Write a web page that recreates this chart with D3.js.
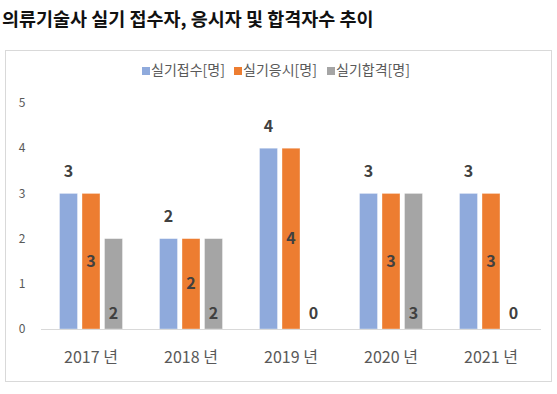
<!DOCTYPE html>
<html>
<head>
<meta charset="utf-8">
<script src="https://cdn.jsdelivr.net/npm/d3@7"></script>
<style>
  body { margin: 0; background: #fff; font-family: "Noto Sans CJK KR", "Noto Sans", sans-serif; }
</style>
</head>
<body>
<div id="chart"></div>
<script>
var title = "의류기술사 실기 접수자, 응시자 및 합격자수 추이";
var years = ["2017 년", "2018 년", "2019 년", "2020 년", "2021 년"];
var seriesNames = ["실기접수[명]", "실기응시[명]", "실기합격[명]"];
var applied = [3, 2, 4, 3, 3];
var attended = [3, 2, 4, 3, 3];
var passed = [2, 2, 0, 3, 0];
var yTicks = [0, 1, 2, 3, 4, 5];
var colors = ["#8FAADC", "#ED7D31", "#A5A5A5"];

var width = 557, height = 394;
var svg = d3.select("#chart").append("svg")
    .attr("width", width)
    .attr("height", height);

// title
svg.append("text")
    .attr("x", 2).attr("y", 26)
    .attr("font-size", "18.5px")
    .attr("font-weight", "bold")
    .attr("fill", "#111")
    .text(title);

// chart frame
svg.append("rect")
    .attr("x", 5.5).attr("y", 50.5)
    .attr("width", 546).attr("height", 331)
    .attr("fill", "none")
    .attr("stroke", "#d9d9d9");

var allSeries = [applied, attended, passed];

var x0 = d3.scaleBand()
    .domain(years)
    .range([41, 541])
    .paddingInner(0.37)
    .paddingOuter(0.185);

var x1 = d3.scaleBand()
    .domain(d3.range(3))
    .range([0, x0.bandwidth()])
    .paddingInner(0.2);

var y = d3.scaleLinear()
    .domain([0, 5])
    .range([329, 103]);

// y tick labels
svg.append("g").selectAll("text")
    .data(yTicks)
    .enter().append("text")
    .attr("x", 22)
    .attr("y", d => y(d))
    .attr("dy", "0.35em")
    .attr("text-anchor", "middle")
    .attr("font-size", "12px")
    .attr("fill", "#595959")
    .text(d => d);

// bars
var groups = svg.append("g").selectAll("g")
    .data(years)
    .enter().append("g")
    .attr("transform", d => "translate(" + x0(d) + ",0)");

groups.selectAll("rect")
    .data((d, i) => allSeries.map((s, k) => ({k: k, v: s[i]})))
    .enter().append("rect")
    .attr("x", d => x1(d.k))
    .attr("y", d => y(d.v))
    .attr("width", x1.bandwidth())
    .attr("height", d => y(0) - y(d.v))
    .attr("fill", d => colors[d.k])
    .attr("stroke", "#fff")
    .attr("stroke-width", 0.7)
    .attr("stroke-opacity", 0.5);

// baseline
svg.append("line")
    .attr("x1", 41).attr("x2", 541)
    .attr("y1", y(0) + 0.5).attr("y2", y(0) + 0.5)
    .attr("stroke", "#d9d9d9");

// data labels
groups.selectAll("text.lbl")
    .data((d, i) => allSeries.map((s, k) => ({k: k, v: s[i]})))
    .enter().append("text")
    .attr("class", "lbl")
    .attr("x", d => x1(d.k) + x1.bandwidth() / 2)
    .attr("y", function(d) {
        if (d.k == 0) return y(d.v) - 22;
        if (d.k == 1) return (y(d.v) + y(0)) / 2;
        return y(0) - 16;
    })
    .attr("dy", "0.35em")
    .attr("text-anchor", "middle")
    .attr("font-size", "16px")
    .attr("font-weight", "bold")
    .attr("fill", "#404040")
    .text(d => d.v);

// x labels
svg.append("g").selectAll("text")
    .data(years)
    .enter().append("text")
    .attr("x", d => x0(d) + x0.bandwidth() / 2)
    .attr("y", 357)
    .attr("dy", "0.35em")
    .attr("text-anchor", "middle")
    .attr("font-size", "16px")
    .attr("fill", "#595959")
    .text(d => d);

// legend
var legendX = [142, 234, 327];
var legend = svg.append("g").selectAll("g")
    .data(seriesNames)
    .enter().append("g")
    .attr("transform", (d, i) => "translate(" + legendX[i] + ",0)");
legend.append("rect")
    .attr("x", 0).attr("y", 67)
    .attr("width", 8).attr("height", 8)
    .attr("fill", (d, i) => colors[i]);
legend.append("text")
    .attr("x", 9).attr("y", 70)
    .attr("dy", "0.35em")
    .attr("font-size", "14px")
    .attr("fill", "#595959")
    .text(d => d);
</script>
</body>
</html>
